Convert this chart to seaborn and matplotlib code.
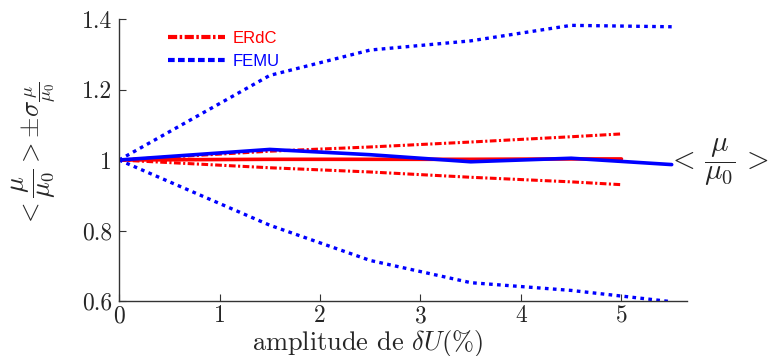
import numpy as np
import pandas as pd
import matplotlib
matplotlib.use("Agg")
import matplotlib.pyplot as plt
import seaborn as sns
from matplotlib.lines import Line2D

sns.set_theme(style="white")
plt.rcParams['font.family'] = ['cmr10', 'DejaVu Serif']
plt.rcParams['mathtext.fontset'] = 'cm'
plt.rcParams['axes.formatter.use_mathtext'] = True

# ---- data ----
x_erdc = [0, 1.5, 2.5, 3.5, 4.5, 5.0]
erdc_mean = [1.0, 1.002, 1.002, 1.002, 1.003, 1.003]
erdc_upper = [1.0, 1.025, 1.037, 1.051, 1.066, 1.074]
erdc_lower = [1.0, 0.978, 0.966, 0.951, 0.938, 0.930]

x_femu = [0, 1.5, 2.5, 3.5, 4.5, 5.5]
femu_mean = [1.0, 1.030, 1.015, 0.995, 1.005, 0.987]
femu_upper = [1.0, 1.240, 1.312, 1.338, 1.382, 1.378]
femu_lower = [1.0, 0.815, 0.715, 0.652, 0.630, 0.598]

xticks = [0, 1, 2, 3, 4, 5]
yticks = [0.6, 0.8, 1.0, 1.2, 1.4]
ytick_labels = ['0.6', '0.8', '1', '1.2', '1.4']

red = '#ff0000'
blue = '#0000ff'

fig = plt.figure(figsize=(7.76, 3.56), dpi=100)
ax = fig.add_axes([0.1534, 0.1545, 0.885 - 0.1534, 0.9466 - 0.1545])

dotted = (0, (1.1, 1.3))
dashdot = (0, (2.2, 0.8, 0.7, 0.8))

sns.lineplot(x=x_erdc, y=erdc_upper, ax=ax, color=red, lw=2.2, linestyle=dashdot)
sns.lineplot(x=x_erdc, y=erdc_lower, ax=ax, color=red, lw=2.2, linestyle=dashdot)
sns.lineplot(x=x_erdc, y=erdc_mean, ax=ax, color=red, lw=2.6)
sns.lineplot(x=x_femu, y=femu_upper, ax=ax, color=blue, lw=2.4, linestyle=dotted)
sns.lineplot(x=x_femu, y=femu_lower, ax=ax, color=blue, lw=2.4, linestyle=dotted)
sns.lineplot(x=x_femu, y=femu_mean, ax=ax, color=blue, lw=2.6)

ax.set_xlim(0, 5.65)
ax.set_ylim(0.6, 1.4)
ax.set_xticks(xticks)
ax.set_xticklabels([str(t) for t in xticks], fontsize=17)
ax.set_yticks(yticks)
ax.set_yticklabels(ytick_labels, fontsize=17)
ax.tick_params(axis='both', direction='in', length=5, width=0.8, color='#333333',
               bottom=True, left=True)
ax.tick_params(axis='x', pad=3)
ax.tick_params(axis='y', pad=5)
for s in ['top', 'right']:
    ax.spines[s].set_visible(False)
for s in ['left', 'bottom']:
    ax.spines[s].set_color('#333333')
    ax.spines[s].set_linewidth(1.0)

ax.set_xlabel(r'amplitude de $\delta U(\%)$', fontsize=19)
ax.xaxis.set_label_coords(0.438, -0.174, transform=ax.transAxes)
ax.xaxis.label.set_va('baseline')
ax.set_ylabel(r'$<\dfrac{\mu}{\mu_0}> \pm\sigma_{\dfrac{\mu}{\mu_0}}$', fontsize=19)
ax.yaxis.set_label_coords(-0.108, 0.52, transform=ax.transAxes)

ax.text(0.966, 0.49, r'$<\,\dfrac{\mu}{\mu_0}\,>$', transform=ax.transAxes,
        fontsize=21, ha='left', va='center')

handles = [Line2D([], [], color=red, lw=3, linestyle=(0, (2.2, 0.6, 0.6, 0.6))),
           Line2D([], [], color=blue, lw=3, linestyle=(0, (1.6, 0.8)))]
leg = ax.legend(handles, ['ERdC', 'FEMU'], loc='upper left', bbox_to_anchor=(0.06, 1.01),
                frameon=False, handlelength=3.4, handletextpad=0.5, labelspacing=0.45,
                prop={'family': 'Liberation Sans', 'size': 12})
for t, c in zip(leg.get_texts(), [red, blue]):
    t.set_color(c)

fig.savefig('out.png', dpi=100)
